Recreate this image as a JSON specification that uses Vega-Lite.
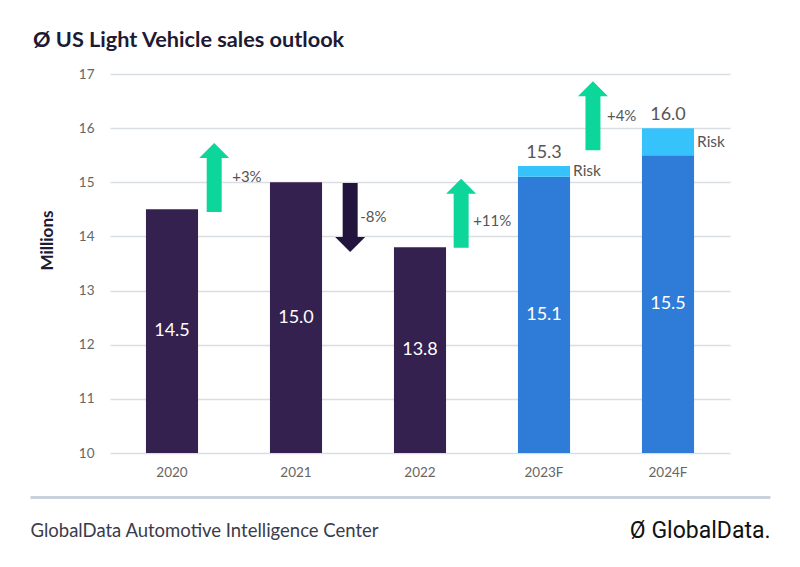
{
  "$schema": "https://vega.github.io/schema/vega-lite/v6.json",
  "width": 620,
  "height": 379,
  "autosize": "none",
  "padding": {"left": 110, "top": 74, "right": 70, "bottom": 114},
  "background": "white",
  "config": {"view": {"stroke": null}, "font": "Lato"},
  "title": {"text": "Ø  US Light Vehicle sales outlook", "anchor": "start", "frame": "group", "dx": -77, "fontSize": 21.7, "fontWeight": "bold", "color": "#1e1a33", "font": "Lato", "offset": 15},
  "datasets": {
    "bars": [
      {"year": "2020", "base": 14.5, "kind": "actual"},
      {"year": "2021", "base": 15.0, "kind": "actual"},
      {"year": "2022", "base": 13.8, "kind": "actual"},
      {"year": "2023F", "base": 15.1, "top": 15.3, "kind": "forecast", "riskLabel": "Risk"},
      {"year": "2024F", "base": 15.5, "top": 16.0, "kind": "forecast", "riskLabel": "Risk"}
    ],
    "arrows": [
      {"year": "2020", "dir": "up", "mid": 15.09, "label": "+3%"},
      {"year": "2021", "dir": "down", "mid": 14.35, "label": "-8%"},
      {"year": "2022", "dir": "up", "mid": 14.43, "label": "+11%"},
      {"year": "2023F", "dir": "up", "mid": 16.23, "label": "+4%"}
    ]
  },
  "resolve": {"scale": {"x": "independent"}, "axis": {"x": "independent"}},
  "layer": [
    {
      "layer": [
        {
          "data": {"name": "bars"},
          "mark": {"type": "bar"},
          "encoding": {
            "x": {"field": "year", "type": "nominal", "scale": {"paddingInner": 0.58, "paddingOuter": 0.29},
              "axis": {"title": "GlobalData Automotive Intelligence Center", "titleX": -80, "titleY": 77, "titleAlign": "left", "titleAnchor": "start", "titleBaseline": "middle", "titleFontSize": 18.5, "titleFontWeight": "normal", "titleColor": "#3b3b4b", "labelAngle": 0, "labelFontSize": 13.5, "labelColor": "#666666", "labelPadding": 12, "ticks": false, "domain": false, "grid": false}},
            "y": {"field": "base", "type": "quantitative", "scale": {"domain": [10, 17], "zero": false, "nice": false},
              "axis": {"values": [10, 11, 12, 13, 14, 15, 16, 17], "format": "d", "title": "Millions", "titleX": -63, "titleY": 166, "titleFontSize": 17, "titleFontWeight": "bold", "titleColor": "#1e1a33", "titleAngle": -90, "titleAlign": "center", "titleBaseline": "middle", "labelFontSize": 13.5, "labelColor": "#666666", "labelPadding": 16, "ticks": false, "domain": false, "gridColor": "#d9dee3", "gridWidth": 1.5}},
            "y2": {"datum": 10},
            "color": {"field": "kind", "type": "nominal", "scale": {"domain": ["actual", "forecast"], "range": ["#35214f", "#2e7bd8"]}, "legend": null}
          }
        },
        {
          "data": {"name": "bars"},
          "transform": [{"filter": "isValid(datum.top)"}],
          "mark": {"type": "bar", "color": "#36c2fb"},
          "encoding": {
            "x": {"field": "year", "type": "nominal"},
            "y": {"field": "base", "type": "quantitative"},
            "y2": {"field": "top"}
          }
        },
        {
          "data": {"name": "bars"},
          "transform": [{"calculate": "(datum.base + 10) / 2", "as": "mid"}],
          "mark": {"type": "text", "color": "white", "fontSize": 18, "baseline": "middle"},
          "encoding": {
            "x": {"field": "year", "type": "nominal"},
            "y": {"field": "mid", "type": "quantitative"},
            "text": {"field": "base", "type": "quantitative", "format": ".1f"}
          }
        },
        {
          "data": {"name": "bars"},
          "transform": [{"filter": "isValid(datum.top)"}],
          "mark": {"type": "text", "color": "#555555", "fontSize": 18, "baseline": "bottom", "dy": -4},
          "encoding": {
            "x": {"field": "year", "type": "nominal"},
            "y": {"field": "top", "type": "quantitative"},
            "text": {"field": "top", "type": "quantitative", "format": ".1f"}
          }
        },
        {
          "data": {"name": "bars"},
          "transform": [{"filter": "isValid(datum.top)"}, {"calculate": "(datum.base + datum.top) / 2", "as": "riskMid"}],
          "mark": {"type": "text", "color": "#555555", "fontSize": 15.5, "align": "left", "baseline": "middle", "dx": 3},
          "encoding": {
            "x": {"field": "year", "type": "nominal", "bandPosition": 1},
            "y": {"field": "riskMid", "type": "quantitative"},
            "text": {"field": "riskLabel"}
          }
        },
        {
          "data": {"name": "arrows"},
          "transform": [{"filter": "datum.year === '2020'"}],
          "encoding": {
            "x": {"field": "year", "type": "nominal", "bandPosition": 1.31},
            "y": {"field": "mid", "type": "quantitative"}
          },
          "layer": [
            {"mark": {"type": "point", "filled": true, "size": 4761, "opacity": 1, "strokeWidth": 0},
             "encoding": {
               "shape": {"field": "dir", "type": "nominal", "scale": {"domain": ["up", "down"], "range": ["M0,-1 L0.435,-0.565 L0.217,-0.565 L0.217,1 L-0.217,1 L-0.217,-0.565 L-0.435,-0.565 Z", "M0,1 L0.435,0.565 L0.217,0.565 L0.217,-1 L-0.217,-1 L-0.217,0.565 L-0.435,0.565 Z"]}, "legend": null},
               "fill": {"field": "dir", "type": "nominal", "scale": {"domain": ["up", "down"], "range": ["#0dd69b", "#22143d"]}, "legend": null}
             }},
            {"mark": {"type": "text", "align": "left", "baseline": "middle", "dx": 18, "fontSize": 15, "color": "#555555"},
             "encoding": {"text": {"field": "label"}}}
          ]
        },
        {
          "data": {"name": "arrows"},
          "transform": [{"filter": "datum.year === '2021'"}],
          "encoding": {
            "x": {"field": "year", "type": "nominal", "bandPosition": 1.54},
            "y": {"field": "mid", "type": "quantitative"}
          },
          "layer": [
            {"mark": {"type": "point", "filled": true, "size": 4761, "opacity": 1, "strokeWidth": 0},
             "encoding": {
               "shape": {"field": "dir", "type": "nominal", "legend": null},
               "fill": {"field": "dir", "type": "nominal", "legend": null}
             }},
            {"mark": {"type": "text", "align": "left", "baseline": "middle", "dx": 10, "fontSize": 15, "color": "#555555"},
             "encoding": {"text": {"field": "label"}}}
          ]
        },
        {
          "data": {"name": "arrows"},
          "transform": [{"filter": "datum.year === '2022'"}],
          "encoding": {
            "x": {"field": "year", "type": "nominal", "bandPosition": 1.29},
            "y": {"field": "mid", "type": "quantitative"}
          },
          "layer": [
            {"mark": {"type": "point", "filled": true, "size": 4761, "opacity": 1, "strokeWidth": 0},
             "encoding": {
               "shape": {"field": "dir", "type": "nominal", "legend": null},
               "fill": {"field": "dir", "type": "nominal", "legend": null}
             }},
            {"mark": {"type": "text", "align": "left", "baseline": "middle", "dx": 12, "dy": 8, "fontSize": 15, "color": "#555555"},
             "encoding": {"text": {"field": "label"}}}
          ]
        },
        {
          "data": {"name": "arrows"},
          "transform": [{"filter": "datum.year === '2023F'"}],
          "encoding": {
            "x": {"field": "year", "type": "nominal", "bandPosition": 1.44},
            "y": {"field": "mid", "type": "quantitative"}
          },
          "layer": [
            {"mark": {"type": "point", "filled": true, "size": 4761, "opacity": 1, "strokeWidth": 0},
             "encoding": {
               "shape": {"field": "dir", "type": "nominal", "legend": null},
               "fill": {"field": "dir", "type": "nominal", "legend": null}
             }},
            {"mark": {"type": "text", "align": "left", "baseline": "middle", "dx": 14, "fontSize": 15, "color": "#555555"},
             "encoding": {"text": {"field": "label"}}}
          ]
        }
      ]
    },
    {
      "data": {"values": [{"anchor": 0.5}]},
      "mark": {"type": "rule", "opacity": 0},
      "encoding": {
        "x": {"field": "anchor", "type": "quantitative", "scale": {"domain": [0, 1], "range": [-80, 660]},
          "axis": {"orient": "bottom", "offset": 44, "domain": true, "domainColor": "#c9d3dd", "domainWidth": 3, "ticks": false, "labels": false, "grid": false, "title": "Ø GlobalData.", "titleX": 660, "titleY": 33, "titleAlign": "right", "titleAnchor": "end", "titleBaseline": "middle", "titleFontSize": 23, "titleFont": "Roboto", "titleFontWeight": "normal", "titleColor": "#111111"}}
      }
    }
  ]
}
